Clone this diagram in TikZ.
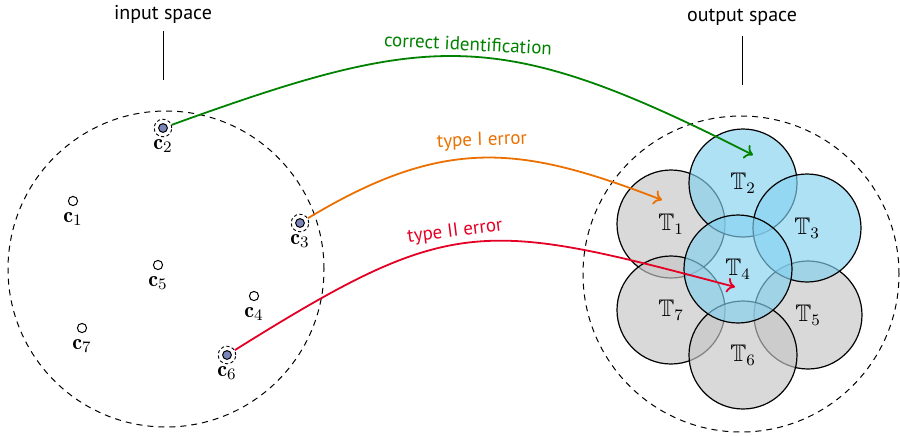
\documentclass[tikz,border=0pt]{standalone}
\usepackage{amsmath,amssymb}
\usepackage{fontspec}
\newfontfamily\labfont{PT Sans}
\usetikzlibrary{arrows.meta}
\definecolor{cgreen}{RGB}{0,130,0}
\definecolor{corange}{RGB}{235,112,0}
\definecolor{cred}{RGB}{228,0,36}
\definecolor{cdot}{RGB}{122,132,184}
\definecolor{cblue}{RGB}{132,209,240}
\definecolor{cgray}{RGB}{197,197,197}
\tikzset{
  spacebox/.style={font=\labfont\fontsize{10}{12}\selectfont, inner sep=1pt},
  region/.style={circle, draw, dashed, dash pattern=on 3pt off 2.5pt, line width=0.5pt, minimum size=158pt, inner sep=0pt},
  pt/.style={circle, draw, fill=white, line width=0.5pt, minimum size=4.6pt, inner sep=0pt},
  ptsel/.style={circle, draw, fill=cdot, line width=0.5pt, minimum size=4.4pt, inner sep=0pt},
  ring/.style={circle, draw, dashed, dash pattern=on 1.6pt off 1.2pt, line width=0.45pt, minimum size=8.8pt, inner sep=0pt},
  ptlab/.style={inner sep=0pt, font=\fontsize{11}{13}\selectfont},
  tgray/.style={circle, draw, line width=0.6pt, fill=cgray, fill opacity=0.65, text opacity=1, minimum size=54pt, inner sep=0pt, font=\fontsize{12}{14}\selectfont},
  tblue/.style={circle, draw, line width=0.6pt, fill=cblue, fill opacity=0.65, text opacity=1, minimum size=54pt, inner sep=0pt, font=\fontsize{12}{14}\selectfont},
  conn/.style={line width=0.9pt, -{To[length=4pt,width=7.5pt]}},
  connlab/.style={font=\labfont\fontsize{9.5}{11}\selectfont, inner sep=0pt},
}
\begin{document}
\begin{tikzpicture}[x=0.5pt,y=-0.5pt]
\useasboundingbox (0,0) rectangle (900,435);
% regions
\node[region] (inreg) at (166,269) {};
\node[region] (outreg) at (741,274) {};
\node[spacebox] (inlab) at (163,14) {input space};
\node[spacebox] (outlab) at (742,17) {output space};
\coordinate (intick) at (163,80);
\coordinate (outtick) at (742,85);
\draw[line width=0.5pt] (163,31) -- (intick);
\draw[line width=0.5pt] (742,36) -- (outtick);
% points
\node[pt] (c1) at (73,201) {};
\node[ptsel] (c2) at (163,128) {};
\node[ptsel] (c3) at (300,223) {};
\node[pt] (c4) at (254,296) {};
\node[pt] (c5) at (158,265) {};
\node[ptsel] (c6) at (227,355) {};
\node[pt] (c7) at (82,328) {};
\node[ring] (r2) at (c2) {};
\node[ring] (r3) at (c3) {};
\node[ring] (r6) at (c6) {};
\node[ptlab] (l1) at (73,219) {$\mathbf{c}_1$};
\node[ptlab] (l2) at (163,146) {$\mathbf{c}_2$};
\node[ptlab] (l3) at (300,241) {$\mathbf{c}_3$};
\node[ptlab] (l4) at (254,314) {$\mathbf{c}_4$};
\node[ptlab] (l5) at (158,283) {$\mathbf{c}_5$};
\node[ptlab] (l6) at (227,373) {$\mathbf{c}_6$};
\node[ptlab] (l7) at (82,346) {$\mathbf{c}_7$};
% output sets
\node[tgray] (T1) at (671,224) {$\mathbb{T}_1$};
\node[tgray] (T7) at (671,310) {$\mathbb{T}_7$};
\node[tgray] (T5) at (808,315) {$\mathbb{T}_5$};
\node[tgray] (T6) at (743,355) {$\mathbb{T}_6$};
\node[tblue] (T2) at (743,183) {$\mathbb{T}_2$};
\node[tblue] (T3) at (807,228) {$\mathbb{T}_3$};
\node[tblue] (T4) at (738,269) {$\mathbb{T}_4$};
% arrow targets
\coordinate (e2) at (753,155);
\coordinate (e1) at (662,200);
\coordinate (e4) at (735,287);
% connectors
\draw[conn, cgreen] (r2) .. controls +(268,-97) and +(-254,-129) .. (e2);
\draw[conn, corange] (r3) .. controls +(146,-88) and +(-140,-54) .. (e1);
\draw[conn, cred] (r6) .. controls +(224,-140) and +(-255,-68) .. (e4);
% connector labels
\node[connlab, text=cgreen, rotate=-3] (g) at (468,44) {correct identification};
\node[connlab, text=corange, rotate=2] (o) at (482,141) {type I error};
\node[connlab, text=cred, rotate=7] (r) at (455,232) {type II error};
\end{tikzpicture}
\end{document}
